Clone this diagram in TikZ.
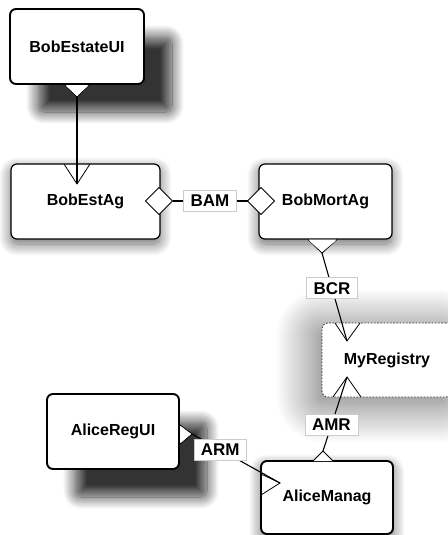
\documentclass[tikz,border=0pt]{standalone}
\usepackage{fontspec}
\setmainfont{Liberation Sans}
\usetikzlibrary{calc,shadows.blur}

\tikzset{
  cls/.style={rectangle, draw=black, fill=white, rounded corners=6pt, inner sep=0pt,
    line width=1.2pt, font=\bfseries\fontsize{16}{19}\selectfont},
  heavy/.style={cls, line width=1.9pt},
  farshadow/.style={blur shadow={shadow xshift=28pt, shadow yshift=-28pt,
    shadow blur radius=12pt, shadow blur steps=16, shadow opacity=80}},
  softshadow/.style={blur shadow={shadow xshift=0pt, shadow yshift=-5pt,
    shadow blur radius=12pt, shadow blur steps=16, shadow opacity=60}},
  haloshadow/.style={blur shadow={shadow xshift=-6pt, shadow yshift=-6pt,
    shadow blur radius=40pt, shadow blur steps=40, shadow opacity=60}},
  dotborder/.style={draw=black!80, line width=0.8pt, dash pattern=on 1.6pt off 1.6pt},
  conn/.style={draw=black, line width=1.1pt},
  solidtip/.style={draw=black, fill=white, line width=0.9pt, line join=miter},
  opentip/.style={draw=black, line width=0.8pt},
  lbl/.style={rectangle, fill=white, draw=black!20, line width=0.5pt, inner xsep=7pt,
    inner ysep=0pt, minimum height=21pt, font=\bfseries\fontsize{17}{19}\selectfont},
}

\begin{document}
\begin{tikzpicture}[x=1pt,y=-1pt]
\useasboundingbox (0,0) rectangle (447,535);

% classes
\node[heavy, farshadow, minimum width=134pt, minimum height=75pt] (bui) at (77,46.5) {BobEstateUI};
\node[cls, softshadow, minimum width=149pt, minimum height=75pt] (bea) at (85.5,201.5) {BobEstAg};
\node[cls, softshadow, minimum width=133pt, minimum height=75pt] (bma) at (325.5,201.5) {BobMortAg};
\node[cls, haloshadow, dotborder, minimum width=130pt, minimum height=74pt] (reg) at (387,360) {MyRegistry};
\node[heavy, farshadow, minimum width=132pt, minimum height=75pt] (aru) at (113,431.5) {AliceRegUI};
\node[heavy, softshadow, minimum width=132pt, minimum height=73pt] (ama) at (327,497.5) {AliceManag};

% association end points
\coordinate (bui-e) at (77,97);
\coordinate (bea-e) at (77,184);
\coordinate (bea-d) at (172.5,201);
\coordinate (bma-d) at (247.5,201);
\coordinate (bma-e) at (322,253);
\coordinate (reg-t) at (347,341);
\coordinate (reg-b) at (347,377);
\coordinate (ama-t) at (323,451);
\coordinate (aru-e) at (192,434);
\coordinate (ama-l) at (280,483);

% association lines with their role labels
\draw[conn] (bui-e) -- (bea-e);
\draw[conn] (bea-d) -- node[lbl] (bam) {BAM} (bma-d);
\draw[conn] (bma-e) -- node[lbl, pos=0.4] (bcr) {BCR} (reg-t);
\draw[conn] (reg-b) -- node[lbl, pos=0.65] (amr) {AMR} (ama-t);
\draw[conn] (aru-e) -- node[lbl, pos=0.32] (arm) {ARM} (ama-l);

% end markers
\draw[solidtip] (65,85) -- (bui-e) -- (89,85);
\fill[white] (65.5,85.5) -- (77,96) -- (88.5,85.5) -- cycle;
\draw[opentip] (64,164) -- (bea-e) -- (90,164);

\draw[solidtip] (159,187.5) -- (bea-d) -- (159,214.5) -- (145.5,201) -- cycle;
\draw[solidtip] (261,187.5) -- (274.5,201) -- (261,214.5) -- (bma-d) -- cycle;

\draw[solidtip] (308,239.5) -- (bma-e) -- (337,239.5);
\fill[white] (308.8,240.4) -- (322,252) -- (336.2,240.4) -- cycle;
\draw[opentip] (335,323) -- (reg-t) -- (360,323);

\draw[opentip] (333,397) -- (reg-b) -- (361,397);
\draw[solidtip, fill=white] (313,461) -- (ama-t) -- (333,461);

\draw[solidtip] (180,425) -- (aru-e) -- (180,444);
\fill[white] (180.5,426) -- (191,434) -- (180.5,443) -- cycle;
\draw[opentip] (261,474) -- (ama-l) -- (261,495);
\end{tikzpicture}
\end{document}
